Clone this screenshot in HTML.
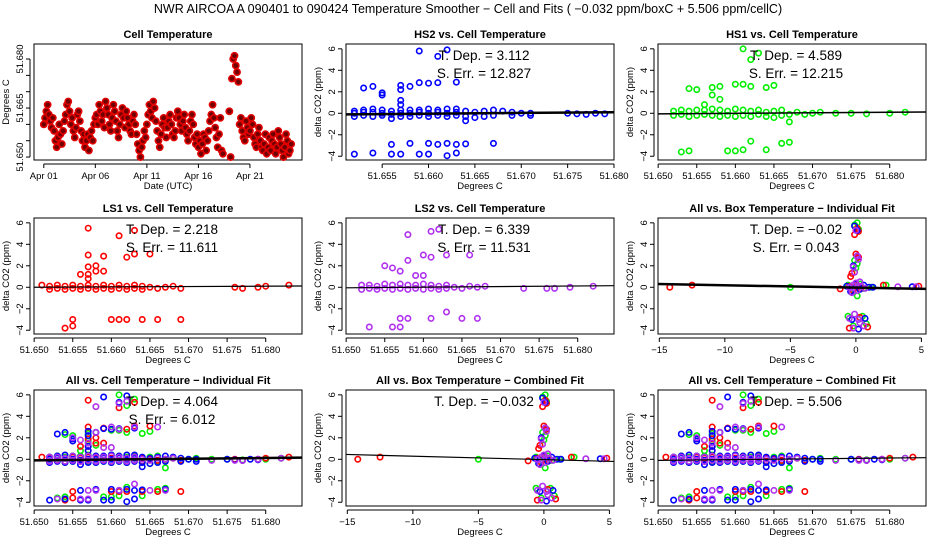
<!DOCTYPE html>
<html><head><meta charset="utf-8"><style>
html,body{margin:0;padding:0;background:#fff;}
svg{display:block;font-family:"Liberation Sans",Arial,sans-serif;}
</style></head><body>
<svg id="fig" width="936" height="540" viewBox="0 0 936 540">
<rect width="936" height="540" fill="#fff"/>
<text x="468" y="13" font-size="12.5" text-anchor="middle">NWR   AIRCOA A   090401 to 090424   Temperature Smoother − Cell and Fits ( −0.032  ppm/boxC +  5.506  ppm/cellC)</text>
</svg>
<script>
// ---- Data ----
const cellTempMilli = [60,62,64,66,63,61,59,62, 58,55,53,56,60,57,54,58, 61,63,66,67,64,60,62,58, 56,59,63,64,61,58,55,57,
53,55,57,52,56,58,55,60, 62,63,60,66,64,61,63,59, 67,65,63,60,58,62,66,64, 61,58,56,60,63,65,62,59,
64,62,60,58,57,61,63,60, 57,54,52,50,53,55,58,56, 60,63,66,64,62,67,65,61, 58,55,53,57,60,62,59,56,
59,61,63,60,57,56,58,62, 64,62,60,58,61,63,59,57, 55,58,61,63,60,56,54,57, 53,55,51,54,57,56,52,55,
58,61,63,66,62,59,56,53, 57,62,52,51,null,null,null,null, 64,50,74,80,81,78,76,73, 60,62,58,56,55,61,59,57,
58,62,60,56,54,53,57,59, 55,53,52,54,57,51,53,56, 52,55,57,54,51,53,58,56, 54,52,50,53,57,55,51,52, 54];
const dayTicks = ["Apr 01","Apr 06","Apr 11","Apr 16","Apr 21"];

const hs2X = [51.652,51.652,51.652,51.653,51.653,51.653,51.654,51.654,51.654,51.655,51.655,51.655,51.656,51.656,51.656,51.657,51.657,51.657,51.658,51.658,51.658,51.659,51.659,51.659,51.660,51.660,51.660,51.661,51.661,51.661,51.662,51.662,51.662,51.663,51.663,51.663,51.664,51.664,51.665,51.665,51.666,51.666,51.667,51.667,51.668,51.669,51.669,51.670,51.671,51.671,51.675,51.676,51.677,51.678,51.679,
51.652,51.653,51.654,51.654,51.655,51.655,51.656,51.656,51.657,51.657,51.657,51.657,51.657,51.658,51.658,51.659,51.659,51.659,51.660,51.660,51.660,51.661,51.661,51.661,51.662,51.662,51.662,51.663,51.663,51.663,51.664,51.664,51.667];
const hs2Y = [-0.3,0,0.2,-0.2,0.1,0.3,-0.3,0.1,0.4,-0.2,0,0.3,-0.5,-0.1,0.2,-0.3,0,0.3,-0.3,0,0.3,-0.2,0.1,0.3,-0.3,0,0.4,-0.2,0.1,0.3,-0.3,0,0.4,-0.2,0.1,0.4,-0.3,0.2,-0.4,0.1,-0.3,0.2,-0.2,0.3,0.2,-0.2,0.1,0,-0.2,0,0,-0.05,-0.1,0,-0.05,
-3.8,2.35,2.5,-3.7,1.9,1.7,-2.9,-3.8,2.6,2.2,1.2,0.8,-3.8,2.5,-2.8,5.8,2.85,-3.8,2.8,-2.8,-3.8,5.3,2.85,-2.9,5.9,-2.8,-3.95,2.9,-2.9,-3.7,-2.85,-0.7,-2.8];

const hs1X = [51.652,51.652,51.653,51.653,51.654,51.654,51.655,51.655,51.656,51.656,51.657,51.657,51.658,51.658,51.659,51.659,51.660,51.660,51.661,51.661,51.662,51.662,51.663,51.663,51.664,51.664,51.665,51.665,51.666,51.666,51.667,51.668,51.669,51.670,51.671,51.673,51.675,51.677,51.680,51.682,
51.653,51.654,51.654,51.655,51.656,51.657,51.657,51.658,51.658,51.659,51.660,51.660,51.661,51.661,51.661,51.662,51.662,51.662,51.663,51.664,51.664,51.665,51.666,51.667,51.667];
const hs1Y = [-0.2,0.2,-0.1,0.3,-0.3,0.2,-0.2,0.3,-0.1,0.3,-0.2,0.4,-0.3,0.3,-0.2,0.2,-0.3,0.4,-0.2,0.3,-0.3,0.2,-0.1,0.3,-0.3,0.1,-0.4,0.2,-0.2,0.3,-0.1,0.1,-0.1,0,0.1,0,0,-0.05,0,0.1,
-3.6,2.3,-3.5,2.2,0.8,2.4,1.7,2.5,1.3,-3.5,2.7,-3.5,2.7,-3.4,6.0,5.0,2.5,-2.6,5.6,2.4,-3.4,2.6,-2.8,-0.8,-2.7];

const ls1X = [51.651,51.652,51.652,51.653,51.653,51.654,51.654,51.655,51.655,51.656,51.656,51.657,51.657,51.658,51.658,51.659,51.659,51.660,51.660,51.661,51.661,51.662,51.662,51.663,51.663,51.664,51.664,51.665,51.666,51.667,51.668,51.669,51.676,51.677,51.679,51.680,51.683,
51.654,51.655,51.655,51.656,51.657,51.657,51.657,51.657,51.657,51.658,51.658,51.659,51.659,51.660,51.661,51.661,51.662,51.662,51.663,51.663,51.664,51.665,51.666,51.669];
const ls1Y = [0.2,-0.2,0.1,-0.1,0.2,-0.2,0.1,-0.1,0.2,-0.2,0.1,-0.1,0.2,-0.2,0.1,-0.1,0.2,-0.2,0.1,-0.1,0.2,-0.2,0.1,-0.1,0.2,-0.2,0.1,0,-0.1,0,0.1,-0.1,0,-0.1,0,0.1,0.2,
-3.8,-3.6,-3.0,1.2,5.5,3.0,1.9,1.2,0.8,2.0,1.5,2.9,1.5,-3.0,4.8,-3.0,2.8,-3.0,5.3,3.1,-3.0,3.1,-3.0,-3.0];

const ls2X = [51.652,51.652,51.653,51.653,51.654,51.654,51.655,51.655,51.656,51.656,51.657,51.657,51.658,51.658,51.659,51.659,51.660,51.660,51.661,51.661,51.662,51.662,51.663,51.663,51.664,51.665,51.666,51.667,51.668,51.673,51.676,51.677,51.679,51.682,
51.653,51.655,51.656,51.656,51.657,51.657,51.657,51.658,51.658,51.658,51.659,51.660,51.660,51.661,51.661,51.661,51.662,51.663,51.663,51.665,51.666,51.667];
const ls2Y = [-0.2,0.2,-0.1,0.2,-0.2,0.1,-0.1,0.3,-0.2,0.2,-0.1,0.3,-0.2,0.2,-0.1,0.2,-0.2,0.3,-0.1,0.2,-0.2,0.1,-0.1,0.2,0,-0.1,0.1,0,0.1,-0.1,-0.1,-0.1,0,0.1,
-3.7,2.0,1.8,-3.7,1.5,-3.7,-2.9,4.9,2.5,-2.9,1.1,3.0,1.1,5.2,2.8,-2.9,5.4,3.0,-2.3,-2.9,3.0,-2.9];

const boxRedX = [-14.2,-12.5,-1.2,-0.5,-0.2,0.1,0.4,-0.3,0,0.2,-0.4,0.1,-0.1,0.2,-0.5,0.3,0.9,2.1,4.8];
const boxRedY = [0,0.2,-0.15,0.1,-0.3,0.2,-0.1,1.3,3.1,2.8,1.0,5.5,4.9,5.2,-3.8,-2.8,-3.7,0.2,0.1];
const boxGreenX = [-5,-0.6,-0.3,0,0.3,0.6,-0.1,0.1,0,0.1,-0.1,0.2,-0.6,0.5,0.8,-0.2,2.3,0.1,1.2];
const boxGreenY = [0,0.2,-0.2,0.1,0.3,-0.1,2.5,2.2,1.8,6.0,5.8,5.4,-2.7,-2.7,-3.4,-3.6,0.2,-0.8,0];
const boxBlueX = [-0.7,-0.4,0,0.3,0.6,1.0,-0.2,0.1,-0.1,0.1,-0.3,0.2,0.7,4.3,1.3];
const boxBlueY = [0.1,-0.4,0.3,-0.2,0.2,0,2.0,2.9,5.7,5.3,-3.0,-3.9,-2.9,0.05,0];
const boxPurpleX = [-0.5,-0.2,0.1,0.4,0.7,-0.3,0,0.3,-0.2,0.1,-0.1,0,0.2,-0.5,-0.1,0.3,0.6,-0.2,0.2,3.2,4.6];
const boxPurpleY = [0,0.2,-0.3,0.1,-0.1,-0.5,0.4,0.5,1.9,2.9,1.4,5.3,2.6,-2.9,-2.5,-3.3,-3.6,-3.8,-3.0,0.05,0.05];

const tDepValues = ["3.112","4.589","2.218","6.339","−0.02","4.064","−0.032","5.506"];
const sErrValues = ["12.827","12.215","11.611","11.531","0.043","6.012"];

// ---- Drawing ----
const NS="http://www.w3.org/2000/svg";
const svg=document.getElementById('fig');
function el(tag,attrs,parent){const e=document.createElementNS(NS,tag);for(const k in attrs)e.setAttribute(k,attrs[k]);(parent||svg).appendChild(e);return e;}
function txt(s,attrs,parent){const e=el('text',attrs,parent);e.textContent=s;return e;}

const colL=[34,346,658], colW=268, rowT=[44,218,390], rowH=116;

function panel(id,c,r,title,xmin,xmax,ymin,ymax){
  const L=colL[c],T=rowT[r];
  const g=el('g',{});
  
  
  const sx=v=>L+(v-xmin)/(xmax-xmin)*colW;
  const sy=v=>T+rowH-(v-ymin)/(ymax-ymin)*rowH;
  const t=txt(title,{x:L+colW/2,y:T-6,'font-size':11,'font-weight':'bold','text-anchor':'middle'},g);
  
  
  const b=el('rect',{x:L,y:T,width:colW,height:rowH,fill:'none',stroke:'#000','stroke-width':1},g);
  
  
  return {g,L,T,sx,sy};
}
function xTicks(p,vals,labels,title){
  const B=p.T+rowH;
  const ax=el('g',{},p.g);
  
  
  el('line',{x1:p.sx(vals[0]),x2:p.sx(vals[vals.length-1]),y1:B+4,y2:B+4,stroke:'#000'},ax);
  vals.forEach((v,i)=>{
    el('line',{x1:p.sx(v),x2:p.sx(v),y1:B+4,y2:B+8,stroke:'#000'},ax);
    const tl=txt(labels[i],{x:p.sx(v),y:B+19,'font-size':9.5,'text-anchor':'middle'},ax);
    
    
  });
  const at=txt(title,{x:p.L+colW/2,y:B+29,'font-size':9.5,'text-anchor':'middle'},ax);
  
  
}
function yTicks(p,vals,labels,title){
  const ax=el('g',{},p.g);
  
  
  const X=p.L-4;
  el('line',{x1:X,x2:X,y1:p.sy(vals[0]),y2:p.sy(vals[vals.length-1]),stroke:'#000'},ax);
  vals.forEach((v,i)=>{
    el('line',{x1:X,x2:X-4,y1:p.sy(v),y2:p.sy(v),stroke:'#000'},ax);
    if(labels[i]!==''){
      const tl=txt(labels[i],{x:X-7,y:p.sy(v),'font-size':9.5,'text-anchor':'middle',transform:`rotate(-90 ${X-7} ${p.sy(v)})`},ax);
      
      
    }
  });
  const yc=p.T+rowH/2, xc=p.L-25;
  const at=txt(title,{x:xc,y:yc,'font-size':9.5,'text-anchor':'middle',transform:`rotate(-90 ${xc} ${yc})`},ax);
  
  
}
function points(p,xs,ys,color,name,fill,r){
  const g=el('g',{},p.g);
  
  
  xs.forEach((x,i)=>{
    if(ys[i]===null)return;
    const c=el('circle',{cx:p.sx(x),cy:p.sy(ys[i]),r:r||2.7,fill:fill||'none',stroke:color,'stroke-width':1.6},g);
    
    
  });
}
function fit(p,x0,y0,x1,y1,w){
  const l=el('line',{x1:p.sx(x0),y1:p.sy(y0),x2:p.sx(x1),y2:p.sy(y1),stroke:'#000','stroke-width':w},p.g);
  
  
}
function annot(p,tdep,serr){
  const cx=p.L+colW/2+4;
  const a=txt('T. Dep. =  '+tdep,{x:cx,y:p.T+16,'font-size':13.5,'text-anchor':'middle'},p.g);
  
  
  if(serr!==null){
    const b=txt('S. Err. =  '+serr,{x:cx,y:p.T+34,'font-size':13.5,'text-anchor':'middle'},p.g);
    
    
  }
}

const coX=[51.650,51.655,51.660,51.665,51.670,51.675,51.680];
const coXL=coX.map(v=>v.toFixed(3));
const co2Y=[-4,-2,0,2,4,6], co2YL=co2Y.map(v=>v<0?'−'+(-v):String(v));
const yLab='delta CO2 (ppm)', xLab='Degrees C';
const cxmin=51.650-0.00002, cxmax=51.6847, ymn=-4.35, ymx=6.45;
const bX=[-15,-10,-5,0,5], bXL=bX.map(v=>v<0?'−'+(-v):String(v));

// Panel 1 time series
(function(){
  const p=panel('cell-temperature-panel',0,0,'Cell Temperature',-0.95,25.05,51.6491,51.6846);
  const days=cellTempMilli.map((v,i)=>i*0.125);
  const vals=cellTempMilli.map(v=>v===null?null:51.600+v/1000);
  points(p,days,vals,'#e00000','cell-temp-series','#700000',3.1);
  xTicks(p,[0,5,10,15,20],dayTicks,'Date (UTC)');
  yTicks(p,[51.650,51.655,51.660,51.665,51.670,51.675,51.680],['51.650','','','51.665','','','51.680'],'Degrees C');
})();

// Panel 2 HS2
(function(){
  const p=panel('hs2-panel',1,0,'HS2 vs. Cell Temperature',51.6511,51.6800,ymn,ymx);
  points(p,hs2X,hs2Y,'#0000ff','hs2-series');
  fit(p,51.6511,-0.1,51.680,0.1,2.5);
  xTicks(p,coX.slice(1),coXL.slice(1),xLab); yTicks(p,co2Y,co2YL,yLab);
  annot(p,tDepValues[0],sErrValues[0]);
})();
// Panel 3 HS1
(function(){
  const p=panel('hs1-panel',2,0,'HS1 vs. Cell Temperature',cxmin,cxmax,ymn,ymx);
  points(p,hs1X,hs1Y,'#00ee00','hs1-series');
  fit(p,cxmin,-0.05,cxmax,0.12,1.5);
  xTicks(p,coX,coXL,xLab); yTicks(p,co2Y,co2YL,yLab);
  annot(p,tDepValues[1],sErrValues[1]);
})();
// Panel 4 LS1
(function(){
  const p=panel('ls1-panel',0,1,'LS1 vs. Cell Temperature',cxmin,cxmax,ymn,ymx);
  points(p,ls1X,ls1Y,'#ff0000','ls1-series');
  fit(p,cxmin,0.0,cxmax,0.12,1.2);
  xTicks(p,coX,coXL,xLab); yTicks(p,co2Y,co2YL,yLab);
  annot(p,tDepValues[2],sErrValues[2]);
})();
// Panel 5 LS2
(function(){
  const p=panel('ls2-panel',1,1,'LS2 vs. Cell Temperature',cxmin,cxmax,ymn,ymx);
  points(p,ls2X,ls2Y,'#b030f0','ls2-series');
  fit(p,cxmin,-0.05,cxmax,0.15,1.2);
  xTicks(p,coX,coXL,xLab); yTicks(p,co2Y,co2YL,yLab);
  annot(p,tDepValues[3],sErrValues[3]);
})();
// Panel 6 box individual
(function(){
  const p=panel('box-individual-panel',2,1,'All vs. Box Temperature − Individual Fit',-15.1,5.35,ymn,ymx);
  points(p,boxGreenX,boxGreenY,'#00ee00','box-green-series');
  points(p,boxRedX,boxRedY,'#ff0000','box-red-series');
  points(p,boxBlueX,boxBlueY,'#0000ff','box-blue-series');
  points(p,boxPurpleX,boxPurpleY,'#b030f0','box-purple-series');
  fit(p,-15.1,0.3,5.35,-0.15,2.5);
  xTicks(p,bX,bXL,xLab); yTicks(p,co2Y,co2YL,yLab);
  annot(p,tDepValues[4],sErrValues[4]);
})();
// Panel 7 all cell individual
(function(){
  const p=panel('cell-individual-panel',0,2,'All vs. Cell Temperature − Individual Fit',cxmin,cxmax,ymn,ymx);
  points(p,hs1X,hs1Y,'#00ee00','hs1-series');
  points(p,ls1X,ls1Y,'#ff0000','ls1-series');
  points(p,hs2X,hs2Y,'#0000ff','hs2-series');
  points(p,ls2X,ls2Y,'#b030f0','ls2-series');
  fit(p,cxmin,-0.1,cxmax,0.15,2.5);
  xTicks(p,coX,coXL,xLab); yTicks(p,co2Y,co2YL,yLab);
  annot(p,tDepValues[5],sErrValues[5]);
})();
// Panel 8 box combined
(function(){
  const p=panel('box-combined-panel',1,2,'All vs. Box Temperature − Combined Fit',-15.1,5.35,ymn,ymx);
  points(p,boxGreenX,boxGreenY,'#00ee00','box-green-series');
  points(p,boxRedX,boxRedY,'#ff0000','box-red-series');
  points(p,boxBlueX,boxBlueY,'#0000ff','box-blue-series');
  points(p,boxPurpleX,boxPurpleY,'#b030f0','box-purple-series');
  fit(p,-15.1,0.45,5.35,-0.2,1.2);
  xTicks(p,bX,bXL,xLab); yTicks(p,co2Y,co2YL,yLab);
  annot(p,tDepValues[6],null);
})();
// Panel 9 cell combined
(function(){
  const p=panel('cell-combined-panel',2,2,'All vs. Cell Temperature − Combined Fit',cxmin,cxmax,ymn,ymx);
  points(p,hs1X,hs1Y,'#00ee00','hs1-series');
  points(p,ls1X,ls1Y,'#ff0000','ls1-series');
  points(p,hs2X,hs2Y,'#0000ff','hs2-series');
  points(p,ls2X,ls2Y,'#b030f0','ls2-series');
  fit(p,cxmin,-0.1,cxmax,0.15,1.2);
  xTicks(p,coX,coXL,xLab); yTicks(p,co2Y,co2YL,yLab);
  annot(p,tDepValues[7],null);
})();
</script>
</body></html>
